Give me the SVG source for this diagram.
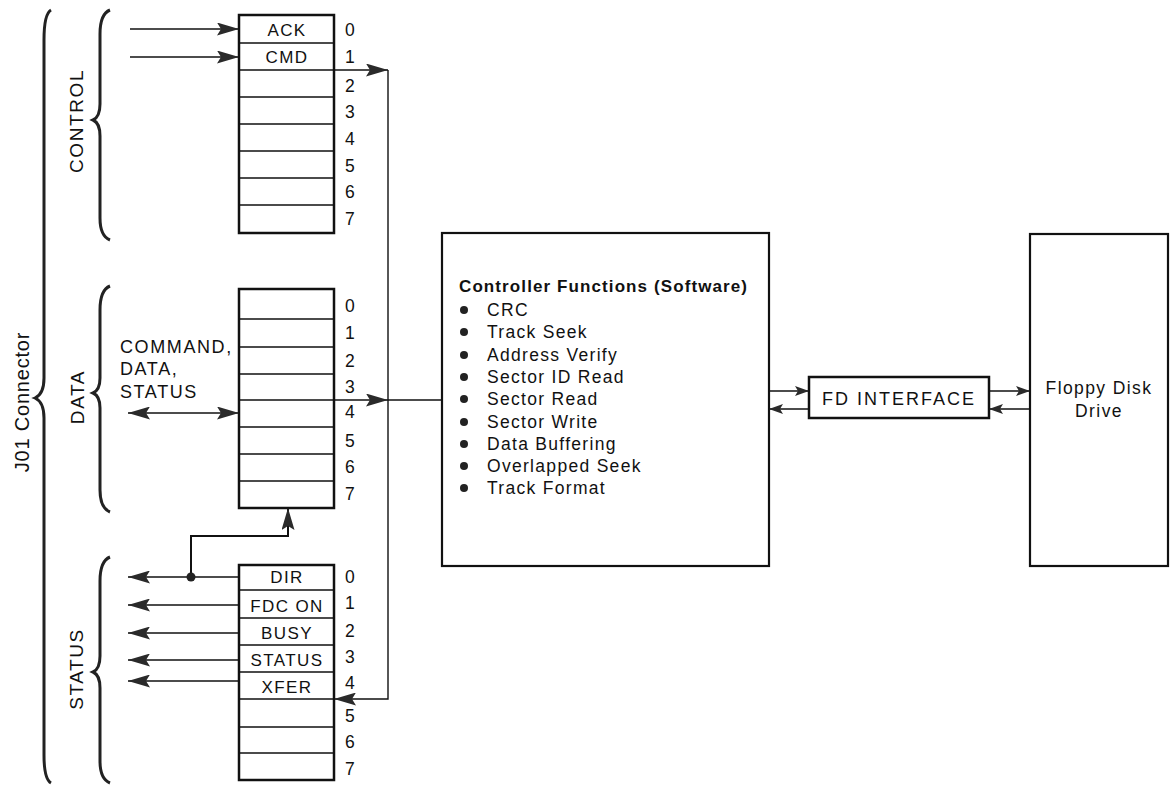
<svg xmlns="http://www.w3.org/2000/svg" width="1174" height="785" viewBox="0 0 1174 785">
<style>
text{font-family:"Liberation Sans",Arial,sans-serif;fill:#111}
.reg{fill:#fff;stroke:#111;stroke-width:2.5}
.div{stroke:#111;stroke-width:1.5}
.lbl{font-size:17px;letter-spacing:1.4px;text-anchor:middle}
.num{font-size:17.5px}
.con{fill:none;stroke:#111;stroke-width:1.4}
.box{fill:#fff;stroke:#111;stroke-width:2.2}
.brace{fill:none;stroke:#222;stroke-width:3}
.side{font-size:19px;letter-spacing:1.6px;text-anchor:middle}
.fn{font-size:17.5px;letter-spacing:1.3px}
</style>
<defs>
<marker id="ah" viewBox="0 0 22 13" markerWidth="22" markerHeight="13" refX="22" refY="6.5" orient="auto-start-reverse" markerUnits="userSpaceOnUse">
<path d="M0,0 L22,6.5 L0,13 L4,6.5 z" fill="#2a2a2a"/>
</marker>
<marker id="as" viewBox="0 0 14 10" markerWidth="14" markerHeight="10" refX="14" refY="5" orient="auto-start-reverse" markerUnits="userSpaceOnUse">
<path d="M0,0 L14,5 L0,10 L3,5 z" fill="#2a2a2a"/>
</marker>
</defs>
<rect width="1174" height="785" fill="#fff"/>

<g id="braces">
<path class="brace" d="M51,10 Q44,14 44,40 L44,378 Q44,394 35,398 Q44,402 44,418 L44,755 Q44,779 51,783"/>
<path class="brace" d="M110,10 Q100,14 100,34 L100,104 Q100,117 93,120 Q100,123 100,136 L100,218 Q100,236 110,240"/>
<path class="brace" d="M110,286 Q100,290 100,310 L100,378 Q100,390 93,393 Q100,396 100,408 L100,490 Q100,508 110,512"/>
<path class="brace" d="M110,557 Q100,561 100,581 L100,656 Q100,669 93,672 Q100,675 100,688 L100,761 Q100,779 110,783"/>
<text class="side" style="font-size:20px;letter-spacing:0.8px" transform="translate(29,402) rotate(-90)">J01 Connector</text>
<text class="side" transform="translate(83,121) rotate(-90)">CONTROL</text>
<text class="side" transform="translate(84,397) rotate(-90)">DATA</text>
<text class="side" transform="translate(83,669) rotate(-90)">STATUS</text>
</g>

<g id="control-register">
<rect class="reg" x="239" y="15" width="95" height="218"/>
<path class="div" d="M239,43H334M239,70H334M239,97H334M239,124H334M239,151H334M239,178H334M239,205H334"/>
<text class="lbl" x="287" y="36">ACK</text>
<text class="lbl" x="287" y="63">CMD</text>
<g class="num">
<text x="345" y="36">0</text><text x="345" y="63">1</text><text x="345" y="92">2</text><text x="345" y="118">3</text>
<text x="345" y="145">4</text><text x="345" y="172">5</text><text x="345" y="198">6</text><text x="345" y="225">7</text>
</g>
</g>

<g id="data-register">
<rect class="reg" x="239" y="289" width="95" height="219"/>
<path class="div" d="M239,319H334M239,347H334M239,374H334M239,400H334M239,427H334M239,454H334M239,481H334"/>
<g class="num">
<text x="345" y="312">0</text><text x="345" y="339">1</text><text x="345" y="367">2</text><text x="345" y="393">3</text>
<text x="345" y="418">4</text><text x="345" y="447">5</text><text x="345" y="473">6</text><text x="345" y="500">7</text>
</g>
</g>

<g id="data-label">
<text style="font-size:18px;letter-spacing:1.6px" x="120" y="353">COMMAND,</text>
<text style="font-size:18px;letter-spacing:1.6px" x="120" y="375">DATA,</text>
<text style="font-size:18px;letter-spacing:1.6px" x="120" y="398">STATUS</text>
</g>

<g id="status-register">
<rect class="reg" x="239" y="565" width="95" height="215"/>
<path class="div" d="M239,590H334M239,618H334M239,645H334M239,672H334M239,699H334M239,727H334M239,753H334"/>
<text class="lbl" x="287" y="583">DIR</text>
<text class="lbl" x="287" y="612">FDC ON</text>
<text class="lbl" x="287" y="639">BUSY</text>
<text class="lbl" x="287" y="666">STATUS</text>
<text class="lbl" x="287" y="693">XFER</text>
<g class="num">
<text x="345" y="583">0</text><text x="345" y="609">1</text><text x="345" y="637">2</text><text x="345" y="663">3</text>
<text x="345" y="689">4</text><text x="345" y="722">5</text><text x="345" y="748">6</text><text x="345" y="775">7</text>
</g>
</g>

<g id="controller">
<rect class="box" x="442" y="233" width="327" height="333"/>
<text x="459" y="292" style="font-size:17px;font-weight:bold;letter-spacing:1.1px">Controller Functions (Software)</text>
<g fill="#222">
<circle cx="464" cy="310" r="4"/><circle cx="464" cy="332" r="4"/><circle cx="464" cy="355" r="4"/>
<circle cx="464" cy="377" r="4"/><circle cx="464" cy="399" r="4"/><circle cx="464" cy="422" r="4"/>
<circle cx="464" cy="444" r="4"/><circle cx="464" cy="466" r="4"/><circle cx="464" cy="488" r="4"/>
</g>
<g class="fn">
<text x="487" y="316">CRC</text>
<text x="487" y="338">Track Seek</text>
<text x="487" y="361">Address Verify</text>
<text x="487" y="383">Sector ID Read</text>
<text x="487" y="405">Sector Read</text>
<text x="487" y="428">Sector Write</text>
<text x="487" y="450">Data Buffering</text>
<text x="487" y="472">Overlapped Seek</text>
<text x="487" y="494">Track Format</text>
</g>
</g>

<g id="fd-interface">
<rect class="box" x="809" y="377" width="180" height="41" style="stroke-width:2.5"/>
<text x="899" y="405" style="font-size:18px;letter-spacing:2px;text-anchor:middle">FD INTERFACE</text>
</g>

<g id="floppy">
<rect class="box" x="1030" y="234" width="138" height="332"/>
<text x="1099" y="394" style="font-size:17.5px;letter-spacing:1.4px;text-anchor:middle">Floppy Disk</text>
<text x="1099" y="417" style="font-size:17.5px;letter-spacing:1.4px;text-anchor:middle">Drive</text>
</g>

<g id="connectors">
<path class="con" d="M130,29H239" marker-end="url(#ah)"/>
<path class="con" d="M130,57H239" marker-end="url(#ah)"/>
<path class="con" d="M334,70H388" marker-end="url(#ah)"/>
<path class="con" d="M388,70V699H334" marker-end="url(#ah)"/>
<path class="con" d="M334,400H388" marker-end="url(#ah)"/>
<path class="con" d="M388,400H442"/>
<path class="con" d="M128,413H239" marker-start="url(#ah)" marker-end="url(#ah)"/>
<path class="con" d="M239,577H128" marker-end="url(#ah)"/>
<path class="con" d="M239,605H128" marker-end="url(#ah)"/>
<path class="con" d="M239,633H128" marker-end="url(#ah)"/>
<path class="con" d="M239,660H128" marker-end="url(#ah)"/>
<path class="con" d="M239,681H128" marker-end="url(#ah)"/>
<path class="con" style="stroke-width:2" d="M191,577V536H288V508" marker-end="url(#ah)"/>
<circle cx="191" cy="577" r="4.5" fill="#222"/>
<path class="con" d="M769,391H809" marker-end="url(#as)"/>
<path class="con" d="M809,409H769" marker-end="url(#as)"/>
<path class="con" d="M989,391H1030" marker-end="url(#as)"/>
<path class="con" d="M1030,409H989" marker-end="url(#as)"/>
</g>
</svg>
